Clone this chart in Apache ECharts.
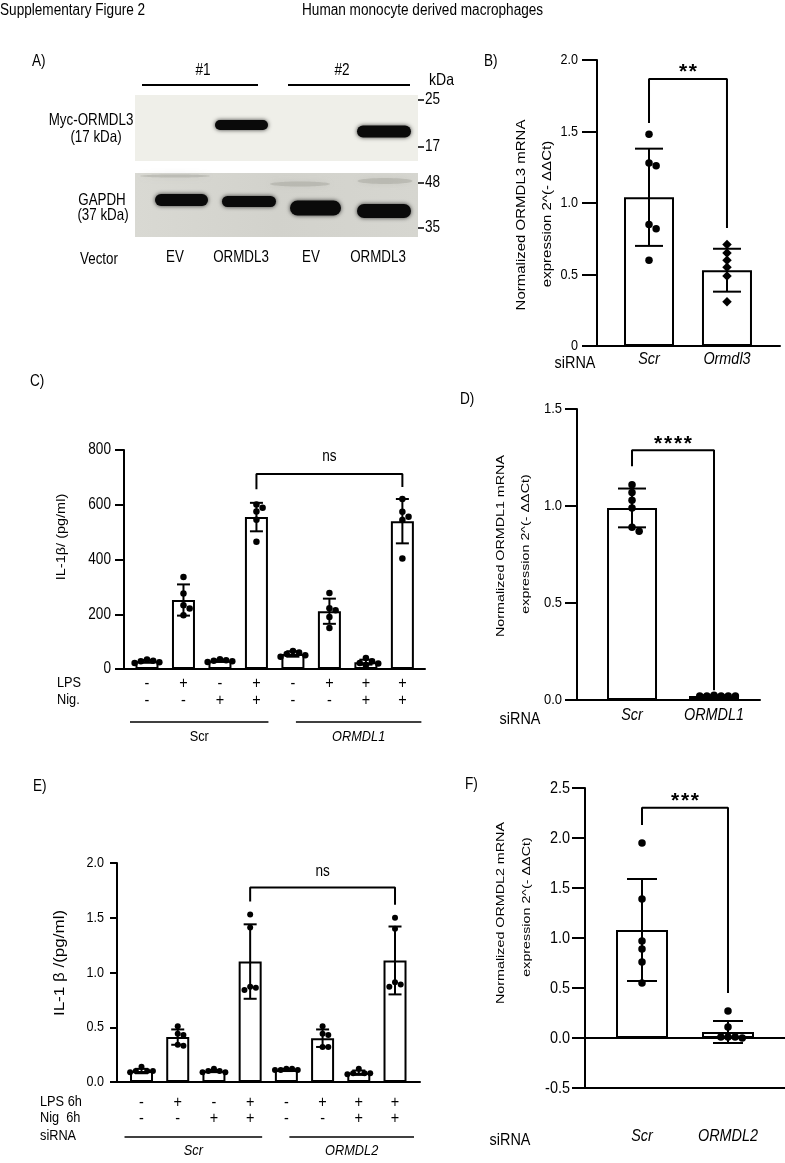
<!DOCTYPE html>
<html><head><meta charset="utf-8">
<script src="https://cdn.jsdelivr.net/npm/echarts@6/dist/echarts.min.js"></script>
<style>html,body{margin:0;padding:0;background:#fff}#c{width:785px;height:1163px}</style>
</head><body><div id="c"></div><script>
// ================= DATA =================
const headingLeft = "Supplementary Figure 2";
const headingRight = "Human monocyte derived macrophages";
const panelLetters = ["A)", "B)", "C)", "D)", "E)", "F)"];

// Panel A (western blot labels)
const blotGroups = ["#1", "#2"];
const blotLanes = ["EV", "ORMDL3", "EV", "ORMDL3"];
const blotRowLabels = [["Myc-ORMDL3", "(17 kDa)"], ["GAPDH", "(37 kDa)"]];
const kdaMarkers = ["25", "17", "48", "35"];

// Panel B
const bCategories = ["Scr", "Ormdl3"];
const bTickLabels = ["0", "0.5", "1.0", "1.5", "2.0"];
const bMeans = [1.04, 0.53];
const bSD = [0.34, 0.15];
const bPoints = [[1.48, 1.28, 1.26, 0.85, 0.82, 0.60], [0.71, 0.65, 0.60, 0.55, 0.49, 0.31]];
const bSig = { label: "**", from: 0, to: 1, top: 1.867, leftEnd: 1.56, rightEnd: 0.825, textY: 1.96 };
const bYTitle = ["Normalized ORMDL3 mRNA", "expression 2^(- \u0394\u0394Ct)"];

// Panel C
const cLPS = ["-", "+", "-", "+", "-", "+", "+", "+"];
const cNig = ["-", "-", "+", "+", "-", "-", "+", "+"];
const cGroups = ["Scr", "ORMDL1"];
const cTickLabels = ["0", "200", "400", "600", "800"];
const cMeans = [28, 252, 30, 555, 55, 211, 25, 540];
const cSD = [5, 57, 4, 52, 10, 46, 9, 81];
const cPoints = [
  [35, 30, 28, 25, 22], [336, 276, 233, 221, 196], [36, 32, 30, 28, 26], [601, 589, 575, 545, 465],
  [66, 60, 55, 50, 45], [278, 222, 215, 190, 150], [40, 28, 22, 20, 15], [621, 574, 556, 544, 404]
];
const cSig = { label: "ns", from: 3, to: 7, top: 712, leftEnd: 657, rightEnd: 665, textY: 771 };
const cYTitle = "IL-1\u03b2/ (pg/ml)";

// Panel D
const dCategories = ["Scr", "ORMDL1"];
const dTickLabels = ["0.0", "0.5", "1.0", "1.5"];
const dMeans = [0.99, 0.02];
const dSD = [0.10, 0.005];
const dPoints = [[1.11, 1.07, 1.03, 0.99, 0.89, 0.87], [0.025, 0.02, 0.02, 0.02, 0.02, 0.02]];
const dSig = { label: "****", from: 0, to: 1, top: 1.287, leftEnd: 1.205, rightEnd: 0.05, textY: 1.35 };
const dYTitle = ["Normalized ORMDL1 mRNA", "expression 2^(- \u0394\u0394Ct)"];

// Panel E
const eLPS = ["-", "+", "-", "+", "-", "+", "+", "+"];
const eNig = ["-", "-", "+", "+", "-", "-", "+", "+"];
const eGroups = ["Scr", "ORMDL2"];
const eTickLabels = ["0.0", "0.5", "1.0", "1.5", "2.0"];
const eMeans = [0.10, 0.41, 0.10, 1.10, 0.11, 0.40, 0.085, 1.11];
const eSD = [0.02, 0.07, 0.01, 0.34, 0.01, 0.08, 0.02, 0.31];
const ePoints = [
  [0.14, 0.10, 0.10, 0.10, 0.09], [0.51, 0.44, 0.43, 0.34, 0.33], [0.12, 0.10, 0.10, 0.09, 0.09], [1.53, 1.41, 0.87, 0.86, 0.84],
  [0.12, 0.12, 0.11, 0.11, 0.11], [0.51, 0.44, 0.43, 0.32, 0.32], [0.12, 0.08, 0.08, 0.08, 0.07], [1.50, 1.40, 0.91, 0.89, 0.87]
];
const eSig = { label: "ns", from: 3, to: 7, top: 1.776, leftEnd: 1.648, rightEnd: 1.618, textY: 1.913 };
const eYTitle = "IL-1 \u03b2 /(pg/ml)";

// Panel F
const fCategories = ["Scr", "ORMDL2"];
const fTickLabels = ["-0.5", "0.0", "0.5", "1.0", "1.5", "2.0", "2.5"];
const fMeans = [1.08, 0.06];
const fSD = [0.51, 0.11];
const fPoints = [[1.95, 1.39, 0.97, 0.89, 0.76, 0.55], [0.27, 0.11, 0.01, 0.01, 0.01, 0.00]];
const fSig = { label: "***", from: 0, to: 1, top: 2.303, leftEnd: 2.13, rightEnd: 0.45, textY: 2.43 };
const fYTitle = ["Normalized ORMDL2 mRNA", "expression 2^(- \u0394\u0394Ct)"];

// ================= STYLE / LAYOUT =================
const SANS = "'Liberation Sans', Arial, sans-serif";
const BLACK = '#000';
const panels = [
  { key: 'B', grid: { left: 597, top: 60, width: 183, height: 286 }, x: [-0.667, 1.68], y: [0, 2, 0.5], means: bMeans, sd: bSD, pts: bPoints, sig: bSig, ticks: bTickLabels,
    barW: 50, cap: 28, dot: 7.5, tickLen: 15, margin: 19, tickFont: 14.8, symbols: ['circle', 'diamond'] },
  { key: 'C', grid: { left: 124, top: 450, width: 301, height: 219 }, x: [-0.63, 7.62], y: [0, 800, 200], means: cMeans, sd: cSD, pts: cPoints, sig: cSig, ticks: cTickLabels,
    barW: 23, cap: 13, dot: 6.5, tickLen: 9, margin: 13, tickFont: 16, symbols: ['circle'] },
  { key: 'D', grid: { left: 577, top: 409, width: 183, height: 291 }, x: [-0.671, 1.561], y: [0, 1.5, 0.5], means: dMeans, sd: dSD, pts: dPoints, sig: dSig, ticks: dTickLabels,
    barW: 50, cap: 28, dot: 7.5, tickLen: 12, margin: 15, tickFont: 15.3, symbols: ['circle'] },
  { key: 'E', grid: { left: 117, top: 863, width: 303, height: 219 }, x: [-0.677, 7.69], y: [0, 2, 0.5], means: eMeans, sd: eSD, pts: ePoints, sig: eSig, ticks: eTickLabels,
    barW: 23, cap: 13, dot: 6, tickLen: 7, margin: 13, tickFont: 14.8, symbols: ['circle'] },
  { key: 'F', grid: { left: 585, top: 788, width: 200, height: 300 }, x: [-0.663, 1.663], y: [-0.5, 2.5, 0.5], means: fMeans, sd: fSD, pts: fPoints, sig: fSig, ticks: fTickLabels,
    barW: 52, cap: 30, dot: 7.5, tickLen: 13, margin: 15, tickFont: 17, symbols: ['circle'], zeroLine: true }
];

// deterministic horizontal spreading of overlapping dots (beeswarm-like)
function spread(values, pxPerUnitY, dotPx, pxPerUnitX) {
  const order = values.map((v, i) => i).sort((a, b) => values[b] - values[a]);
  const placed = [], off = new Array(values.length).fill(0);
  const step = dotPx * 0.95, cands = [0, 1, -1, 2, -2, 3, -3, 4, -4];
  for (const i of order) {
    const y = values[i] * pxPerUnitY;
    for (const k of cands) {
      const x = k * step;
      if (placed.every(p => Math.hypot(p.x - x, p.y - y) >= step)) { placed.push({ x, y }); off[i] = x / pxPerUnitX; break; }
    }
  }
  return off;
}

const grids = [], xAxes = [], yAxes = [], series = [];
const axLine = { color: BLACK, width: 2 };
panels.forEach((p, gi) => {
  grids.push(Object.assign({}, p.grid));
  xAxes.push({ gridIndex: gi, type: 'value', min: p.x[0], max: p.x[1], axisLine: { show: true, onZero: false, lineStyle: axLine },
    axisTick: { show: false }, axisLabel: { show: false }, splitLine: { show: false } });
  yAxes.push({ gridIndex: gi, type: 'value', min: p.y[0], max: p.y[1], interval: p.y[2],
    axisLine: { show: true, onZero: false, lineStyle: axLine }, axisTick: { show: true, length: p.tickLen, lineStyle: axLine },
    splitLine: { show: false }, axisLabel: { show: false } });
  const pyu = p.grid.height / (p.y[1] - p.y[0]);
  const pxu = p.grid.width / (p.x[1] - p.x[0]);
  const bar = { type: 'bar', xAxisIndex: gi, yAxisIndex: gi, barWidth: p.barW, z: 2, silent: true,
    data: p.means.map((m, i) => [i, m]),
    itemStyle: { color: '#fff', borderColor: BLACK, borderWidth: 2 } };
  if (p.zeroLine) bar.markLine = { silent: true, symbol: 'none', label: { show: false }, lineStyle: { color: BLACK, width: 2, type: 'solid' }, data: [{ yAxis: 0 }] };
  series.push(bar);
  const cap = p.cap;
  series.push({ type: 'custom', xAxisIndex: gi, yAxisIndex: gi, z: 3, silent: true,
    data: p.means.map((m, i) => [i, m - p.sd[i], m + p.sd[i]]),
    encode: { x: 0, y: [1, 2] },
    renderItem: (params, api) => {
      const x = api.value(0), lo = api.coord([x, api.value(1)]), hi = api.coord([x, api.value(2)]);
      const st = { stroke: BLACK, lineWidth: 2 }, h = cap / 2;
      return { type: 'group', children: [
        { type: 'line', shape: { x1: lo[0], y1: lo[1], x2: hi[0], y2: hi[1] }, style: st },
        { type: 'line', shape: { x1: lo[0] - h, y1: lo[1], x2: lo[0] + h, y2: lo[1] }, style: st },
        { type: 'line', shape: { x1: hi[0] - h, y1: hi[1], x2: hi[0] + h, y2: hi[1] }, style: st }] };
    } });
  const pts = [];
  p.pts.forEach((vals, i) => {
    const off = spread(vals, pyu, p.dot, pxu);
    vals.forEach((v, j) => pts.push({ value: [i + off[j], v], symbol: p.symbols[i] || p.symbols[0], symbolSize: (p.symbols[i] === 'diamond') ? p.dot + 2 : p.dot }));
  });
  series.push({ type: 'scatter', xAxisIndex: gi, yAxisIndex: gi, z: 4, silent: true, clip: false, data: pts, itemStyle: { color: BLACK, opacity: 1 } });
  const s = p.sig;
  series.push({ type: 'line', xAxisIndex: gi, yAxisIndex: gi, z: 5, silent: true, symbol: 'none', clip: false,
    data: [[s.from, s.leftEnd], [s.from, s.top], [s.to, s.top], [s.to, s.rightEnd]], lineStyle: { color: BLACK, width: 2 } });
});

const chart = echarts.init(document.getElementById('c'), null, { renderer: 'canvas', width: 785, height: 1163 });
chart.setOption({ animation: false, backgroundColor: '#fff', grid: grids, xAxis: xAxes, yAxis: yAxes, series: series });

// ================= ANNOTATIONS (graphic) =================
const G = [];
// o.k = horizontal compression (the reference uses a condensed face)
function txt(t, x, y, o) {
  o = o || {};
  const size = o.size || 16, k = (o.k === undefined) ? 0.85 : o.k;
  const font = (o.italic ? 'italic ' : '') + (o.bold ? 'bold ' : '') + size + 'px ' + SANS;
  const el = { type: 'text', x: x, y: y, silent: true, z: 10,
    style: { text: t, font: font, fill: BLACK, textAlign: o.align || 'center', align: o.align || 'center',
      textVerticalAlign: 'middle', verticalAlign: 'middle' } };
  if (o.rot) { el.rotation = o.rot; el.scaleY = k; } else { el.scaleX = k; }
  G.push(el);
}
function seg(x1, y1, x2, y2, w) {
  G.push({ type: 'line', silent: true, z: 10, shape: { x1, y1, x2, y2 }, style: { stroke: BLACK, lineWidth: w || 2 } });
}
const px = (gi, x, y) => chart.convertToPixel({ gridIndex: gi }, [x, y]);

// heading and panel letters
txt(headingLeft, 0, 11, { align: 'left', size: 16 });
txt(headingRight, 302, 11, { align: 'left', size: 16 });
const letterPos = [[32, 62], [484, 62], [30, 382], [460, 400], [33, 787], [465, 785]];
panelLetters.forEach((l, i) => txt(l, letterPos[i][0], letterPos[i][1], { align: 'left', size: 16 }));

// tick labels and significance text for each plot panel
panels.forEach((p, gi) => {
  p.ticks.forEach(t => {
    const q = px(gi, p.x[0], parseFloat(t));
    txt(t, q[0] - p.margin, q[1], { align: 'right', size: p.tickFont });
  });
  const s = p.sig, c = px(gi, (s.from + s.to) / 2, s.textY);
  if (s.label.indexOf('*') >= 0) {
    txt(s.label.split('').join('\u200A'), c[0], c[1] + 6, { size: 21, bold: true, k: 1 });
  } else {
    txt(s.label, c[0], c[1] - 1, { size: 16 });
  }
});

// ---- Panel A: blot ----
G.push({ type: 'rect', silent: true, z: 1, shape: { x: 135, y: 95, width: 283, height: 66 }, style: { fill: '#efefe9' } });
G.push({ type: 'rect', silent: true, z: 1, shape: { x: 135, y: 173, width: 283, height: 64 },
  style: { fill: { type: 'linear', x: 0, y: 0, x2: 1, y2: 0, colorStops: [{ offset: 0, color: '#d9d9d3' }, { offset: 0.5, color: '#d2d2cc' }, { offset: 1, color: '#d6d6d0' }] } } });
[[300, 184, 60, 5], [385, 181, 55, 6], [175, 176, 70, 3]].forEach(s => G.push({ type: 'ellipse', silent: true, z: 2,
  shape: { cx: s[0], cy: s[1], rx: s[2] / 2, ry: s[3] / 2 }, style: { fill: 'rgba(150,150,140,0.35)', shadowBlur: 6, shadowColor: 'rgba(150,150,140,0.6)' } }));
[[215, 53, 125, 10], [357, 54, 131.5, 12], [155, 53, 200, 12], [222, 54, 201.5, 11], [290, 51, 208, 15], [357, 54, 211, 14]].forEach(b =>
  G.push({ type: 'rect', silent: true, z: 3, shape: { x: b[0], y: b[2] - b[3] / 2, width: b[1], height: b[3], r: b[3] / 2 },
    style: { fill: '#0a0a0a', shadowBlur: 4, shadowColor: 'rgba(0,0,0,0.75)' } }));
txt(blotGroups[0], 203, 71, { size: 16 }); seg(142, 85, 258, 85, 2);
txt(blotGroups[1], 342, 71, { size: 16 }); seg(288, 85, 410, 85, 2);
txt('kDa', 429, 80, { align: 'left', size: 16.5 });
[[100, kdaMarkers[0]], [147, kdaMarkers[1]], [183, kdaMarkers[2]], [228, kdaMarkers[3]]].forEach(m => {
  seg(418, m[0], 424, m[0], 1.5); txt(m[1], 425, m[0], { align: 'left', size: 16 });
});
txt(blotRowLabels[0][0], 91, 120, { size: 16.5, k: 0.81 }); txt(blotRowLabels[0][1], 96, 137, { size: 16.5, k: 0.81 });
txt(blotRowLabels[1][0], 102, 200, { size: 16.5, k: 0.81 }); txt(blotRowLabels[1][1], 103, 215, { size: 16.5, k: 0.81 });
txt('Vector', 99, 259, { size: 16.5, k: 0.81 });
[175, 241, 311, 378].forEach((x, i) => txt(blotLanes[i], x, 257, { size: 16.5, k: 0.81 }));

// ---- y axis titles (rotated) ----
const R = Math.PI / 2;
txt(bYTitle[0], 522, 215, { rot: R, size: 15, k: 0.8 }); txt(bYTitle[1], 548, 214, { rot: R, size: 15, k: 0.8 });
txt(dYTitle[0], 501, 546, { rot: R, size: 14.3, k: 0.8 }); txt(dYTitle[1], 526, 544, { rot: R, size: 14.3, k: 0.8 });
txt(fYTitle[0], 501, 913, { rot: R, size: 14.3, k: 0.8 }); txt(fYTitle[1], 527, 907, { rot: R, size: 14.3, k: 0.8 });
txt(cYTitle, 62, 537, { rot: R, size: 14.5, k: 0.85 });
txt(eYTitle, 60, 963, { rot: R, size: 17, k: 0.85 });

// ---- category labels for two-bar panels ----
function twoBarLabels(gi, cats, yLab, siX) {
  txt('siRNA', siX, yLab + 4, { size: 16, k: 0.9 });
  cats.forEach((c, i) => txt(c, px(gi, i, 0)[0], yLab, { size: 16, italic: true, k: 0.9 }));
}
twoBarLabels(0, bCategories, 360, 575);
twoBarLabels(2, dCategories, 716, 520);
twoBarLabels(4, fCategories, 1137, 510);

// ---- treatment rows for C and E ----
const groupPads = [[17, 12], [-3, 19]];
function rows(gi, lps, nig, groups, o) {
  lps.forEach((s, i) => txt(s, px(gi, i, 0)[0], o.y1, { size: 17 }));
  nig.forEach((s, i) => txt(s, px(gi, i, 0)[0], o.y2, { size: 17 }));
  txt(o.l1, o.lx, o.y1, { align: 'left', size: 15 });
  txt(o.l2, o.lx, o.y2, { align: 'left', size: 15 });
  if (o.l3) txt(o.l3, o.lx, o.y3, { align: 'left', size: 15 });
  [[0, 3], [4, 7]].forEach((r, k) => {
    const a = px(gi, r[0], 0)[0] - groupPads[k][0], b = px(gi, r[1], 0)[0] + groupPads[k][1];
    seg(a, o.yl, b, o.yl, 1.5);
    txt(groups[k], (a + b) / 2, o.yg, { size: 15, italic: o.italic[k] });
  });
}
rows(1, cLPS, cNig, cGroups, { y1: 683, y2: 700, yl: 722, yg: 737, lx: 57, l1: 'LPS', l2: 'Nig.', italic: [false, true] });
rows(3, eLPS, eNig, eGroups, { y1: 1102, y2: 1118, yl: 1137, yg: 1151, y3: 1136, lx: 40, l1: 'LPS 6h', l2: 'Nig  6h', l3: 'siRNA', italic: [true, true] });

chart.setOption({ graphic: { elements: G } });
</script></body></html>
